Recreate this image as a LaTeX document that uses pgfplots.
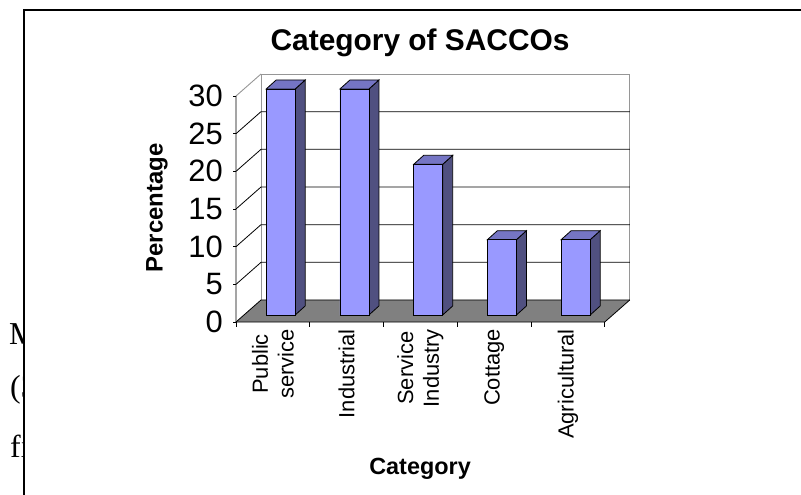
\documentclass[border=0pt]{standalone}
\usepackage{pgfplots}
\pgfplotsset{compat=1.18}
\usepackage{fontspec}
\setmainfont{Liberation Sans}
\newfontfamily\seriffont{Liberation Serif}
\definecolor{barfront}{RGB}{153,153,255}
\definecolor{barside}{RGB}{80,80,128}
\definecolor{bartop}{RGB}{117,117,196}
\definecolor{floorgray}{RGB}{128,128,128}
\definecolor{wallgray}{RGB}{150,150,150}
\tikzset{fp/.style={shift={(-7.8bp,-7bp)}}, bk/.style={shift={(17.2bp,15bp)}}}
\begin{document}
\begin{tikzpicture}
\path[use as bounding box] (0,0) rectangle (801bp,495bp);
% fragments of surrounding page text
\begin{scope}
\clip (0,0) rectangle (24bp,495bp);
\node[anchor=base west, inner sep=0, font=\seriffont\fontsize{32}{36}\selectfont] at (9bp,150bp) {M};
\node[anchor=base west, inner sep=0, font=\seriffont\fontsize{32}{36}\selectfont] at (10bp,97bp) {(3};
\node[anchor=base west, inner sep=0, font=\seriffont\fontsize{32}{36}\selectfont] at (10bp,38bp) {fi};
\end{scope}
\draw[line width=1.5bp] (24bp,0) -- (24bp,485bp) -- (801bp,485bp);
\begin{axis}[
  at={(243.8bp,180bp)}, anchor=south west,
  scale only axis, width=368.75bp, height=226bp,
  xmin=-0.5, xmax=4.5, ymin=0, ymax=30,
  clip=false,
  axis line style={draw=none},
  major tick length=0,
  xtick={0,1,2,3,4},
  xticklabels={{Public\\service},Industrial,{Service\\Industry},Cottage,Agricultural},
  ytick={0,5,10,15,20,25,30},
  /pgf/number format/assume math mode=true,
  xticklabel style={xshift=-7.8bp, yshift=-14bp, rotate=90, anchor=east, align=center, inner sep=0pt, font=\fontsize{22}{26}\selectfont},
  yticklabel style={xshift=-20.8bp, yshift=-7bp, anchor=east, inner sep=0pt, font=\fontsize{31}{34}\selectfont},
  title={Category of SACCOs},
  title style={at={(axis description cs:0.478,1.177)}, anchor=center, font=\bfseries\fontsize{30}{34}\selectfont},
  xlabel={Category},
  xlabel style={at={(axis description cs:0.478,-0.6814)}, anchor=center, font=\bfseries\fontsize{23.5}{27}\selectfont},
  ylabel={Percentage},
  ylabel style={at={(axis description cs:-0.2354,0.4735)}, anchor=center, rotate=0, font=\bfseries\fontsize{24}{27}\selectfont},
]
% floor
\fill[floorgray] ([fp]axis cs:-0.5,0) -- ([fp]axis cs:4.5,0) -- ([bk]axis cs:4.5,0) -- ([bk]axis cs:-0.5,0) -- cycle;
% back wall and side wall edges
\draw[wallgray, line width=0.9bp] ([bk]axis cs:-0.5,0) -- ([bk]axis cs:-0.5,30) -- ([bk]axis cs:4.5,30) -- ([bk]axis cs:4.5,0);
\draw[wallgray, line width=0.9bp] ([fp]axis cs:-0.5,30) -- ([bk]axis cs:-0.5,30);
% gridlines
\pgfplotsinvokeforeach{0,5,10,15,20,25}{
  \draw[black, line width=0.8bp] ([fp]axis cs:-0.5,#1) -- ([bk]axis cs:-0.5,#1) -- ([bk]axis cs:4.5,#1);
}
% front axes
\draw[black, line width=0.8bp] ([fp]axis cs:-0.5,30) -- ([fp]axis cs:-0.5,0) -- ([fp]axis cs:4.5,0) -- ([bk]axis cs:4.5,0);
\pgfplotsinvokeforeach{0,5,10,15,20,25,30}{
  \draw[black, line width=0.8bp] ([fp]axis cs:-0.5,#1) -- ([fp,xshift=-3.5bp]axis cs:-0.5,#1);
}
\pgfplotsinvokeforeach{-0.5,0.5,1.5,2.5,3.5,4.5}{
  \draw[black, line width=0.8bp] ([fp]axis cs:#1,0) -- ([fp,yshift=-5bp]axis cs:#1,0);
}
% bar side faces
\addplot[fill=barside, draw=black, line width=0.8bp] coordinates {(0.1966,0) (0.3322,1.195) (0.3322,31.195) (0.1966,30)} -- cycle;
\addplot[fill=barside, draw=black, line width=0.8bp] coordinates {(1.1966,0) (1.3322,1.195) (1.3322,31.195) (1.1966,30)} -- cycle;
\addplot[fill=barside, draw=black, line width=0.8bp] coordinates {(2.1966,0) (2.3322,1.195) (2.3322,21.195) (2.1966,20)} -- cycle;
\addplot[fill=barside, draw=black, line width=0.8bp] coordinates {(3.1966,0) (3.3322,1.195) (3.3322,11.195) (3.1966,10)} -- cycle;
\addplot[fill=barside, draw=black, line width=0.8bp] coordinates {(4.1966,0) (4.3322,1.195) (4.3322,11.195) (4.1966,10)} -- cycle;
% bar top faces
\addplot[fill=bartop, draw=black, line width=0.8bp] coordinates {(-0.1966,30) (0.1966,30) (0.3322,31.195) (-0.061,31.195)} -- cycle;
\addplot[fill=bartop, draw=black, line width=0.8bp] coordinates {(0.8034,30) (1.1966,30) (1.3322,31.195) (0.939,31.195)} -- cycle;
\addplot[fill=bartop, draw=black, line width=0.8bp] coordinates {(1.8034,20) (2.1966,20) (2.3322,21.195) (1.939,21.195)} -- cycle;
\addplot[fill=bartop, draw=black, line width=0.8bp] coordinates {(2.8034,10) (3.1966,10) (3.3322,11.195) (2.939,11.195)} -- cycle;
\addplot[fill=bartop, draw=black, line width=0.8bp] coordinates {(3.8034,10) (4.1966,10) (4.3322,11.195) (3.939,11.195)} -- cycle;
% bar front faces
\addplot[ybar, bar width=29bp, fill=barfront, draw=black, line width=0.8bp] coordinates {(0,30) (1,30) (2,20) (3,10) (4,10)};
\end{axis}
\end{tikzpicture}
\end{document}
